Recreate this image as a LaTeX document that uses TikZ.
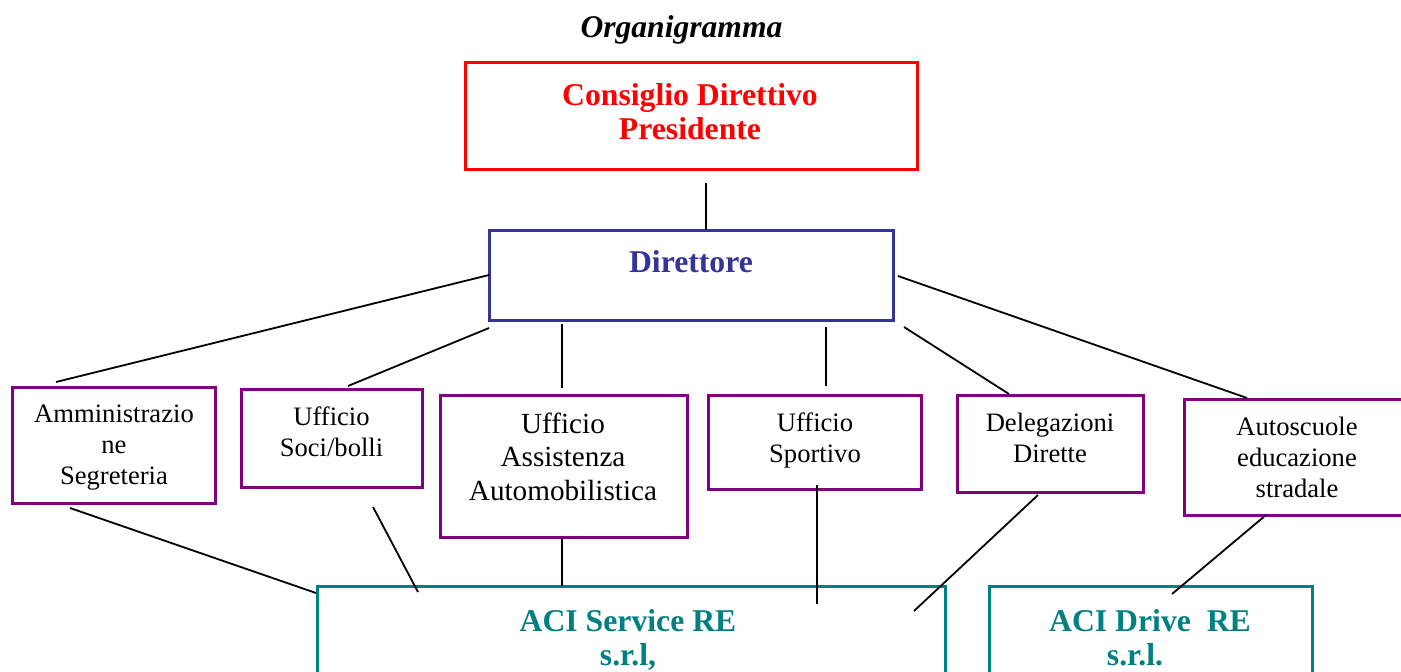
\documentclass[tikz,border=0pt]{standalone}
\usepackage{fontspec}
\setmainfont{Liberation Serif}
\definecolor{cred}{HTML}{FF0000}
\definecolor{cblue}{HTML}{333399}
\definecolor{cpurple}{HTML}{800080}
\definecolor{cteal}{HTML}{008080}
\tikzset{
  box/.style={draw, rectangle, line width=3pt, inner sep=0pt, outer sep=0pt, fill=none},
  redbox/.style={box, draw=cred},
  bluebox/.style={box, draw=cblue},
  purplebox/.style={box, draw=cpurple},
  tealbox/.style={box, draw=cteal},
  conn/.style={draw=black, line width=1.8pt},
  bigtxt/.style={anchor=base, align=center, inner sep=0pt, font=\fontsize{31.7}{33.5}\selectfont\bfseries},
  smalltxt/.style={anchor=base, align=center, inner sep=0pt, font=\fontsize{26.6}{30.7}\selectfont},
  midtxt/.style={anchor=base, align=center, inner sep=0pt, font=\fontsize{29.2}{33.5}\selectfont},
}
\begin{document}
\begin{tikzpicture}[x=1pt,y=-1pt]
\useasboundingbox (0,0) rectangle (1401,672);
\fill[white] (0,0) rectangle (1401,672);

% title
\node[anchor=base, inner sep=0pt, font=\fontsize{31.6}{34}\selectfont\bfseries\itshape] (title) at (681.5,37) {Organigramma};

% boxes
\node[redbox, minimum width=452pt, minimum height=107pt] (cons) at (691,115.5) {};
\node[bluebox, minimum width=404pt, minimum height=90pt] (dir) at (691,275) {};
\node[purplebox, minimum width=203pt, minimum height=116pt] (amm) at (113.5,445) {};
\node[purplebox, minimum width=181pt, minimum height=98pt] (soci) at (331.5,438) {};
\node[purplebox, minimum width=247pt, minimum height=142pt] (ass) at (563.5,466) {};
\node[purplebox, minimum width=213pt, minimum height=94pt] (spo) at (814.5,442) {};
\node[purplebox, minimum width=186pt, minimum height=97pt] (del) at (1050,443.5) {};
\node[purplebox, minimum width=224pt, minimum height=116pt] (aut) at (1296,457) {};
\node[tealbox, minimum width=628pt, minimum height=114pt] (svc) at (631,643) {};
\node[tealbox, minimum width=323pt, minimum height=114pt] (drv) at (1150.5,643) {};

% texts (base anchor = baseline of the last line)
\node[bigtxt, text=cred] (tcons) at (690,139) {Consiglio Direttivo\\Presidente};
\node[bigtxt, text=cblue] (tdir) at (691,272) {Direttore};
\node[smalltxt] (tamm) at (114,484) {Amministrazio\\ne\\Segreteria};
\node[smalltxt] (tsoci) at (331.5,456) {Ufficio\\Soci/bolli};
\node[midtxt] (tass) at (563,500) {Ufficio\\Assistenza\\Automobilistica};
\node[smalltxt] (tspo) at (815,462) {Ufficio\\Sportivo};
\node[smalltxt] (tdel) at (1050,462) {Delegazioni\\Dirette};
\node[smalltxt] (taut) at (1297,497) {Autoscuole\\educazione\\stradale};
\node[bigtxt, text=cteal] (tsvc) at (628,665) {ACI Service RE\\s.r.l,};
\node[bigtxt, text=cteal] (tdrv) at (1150,665) {ACI Drive\ \ RE\\s.r.l.\hspace*{30pt}};

% connector end points
\coordinate (a1) at (706,183);   \coordinate (b1) at (706,230);
\coordinate (a2) at (489,275);   \coordinate (b2) at (56,382);
\coordinate (a3) at (489,328);   \coordinate (b3) at (348,386);
\coordinate (a4) at (562,324);   \coordinate (b4) at (562,388);
\coordinate (a5) at (826,327);   \coordinate (b5) at (826,386);
\coordinate (a6) at (904,327);   \coordinate (b6) at (1009,394);
\coordinate (a7) at (898,276);   \coordinate (b7) at (1247,398);
\coordinate (a8) at (70,508);    \coordinate (b8) at (316,593);
\coordinate (a9) at (373,507);   \coordinate (b9) at (418,592);
\coordinate (a10) at (562,538);  \coordinate (b10) at (562,586);
\coordinate (a11) at (817,485);  \coordinate (b11) at (817,604);
\coordinate (a12) at (1038,495); \coordinate (b12) at (914,611);
\coordinate (a13) at (1266,515); \coordinate (b13) at (1172,594);

\draw[conn] (a1) -- (b1);
\draw[conn] (a2) -- (b2);
\draw[conn] (a3) -- (b3);
\draw[conn] (a4) -- (b4);
\draw[conn] (a5) -- (b5);
\draw[conn] (a6) -- (b6);
\draw[conn] (a7) -- (b7);
\draw[conn] (a8) -- (b8);
\draw[conn] (a9) -- (b9);
\draw[conn] (a10) -- (b10);
\draw[conn] (a11) -- (b11);
\draw[conn] (a12) -- (b12);
\draw[conn] (a13) -- (b13);
\end{tikzpicture}
\end{document}
